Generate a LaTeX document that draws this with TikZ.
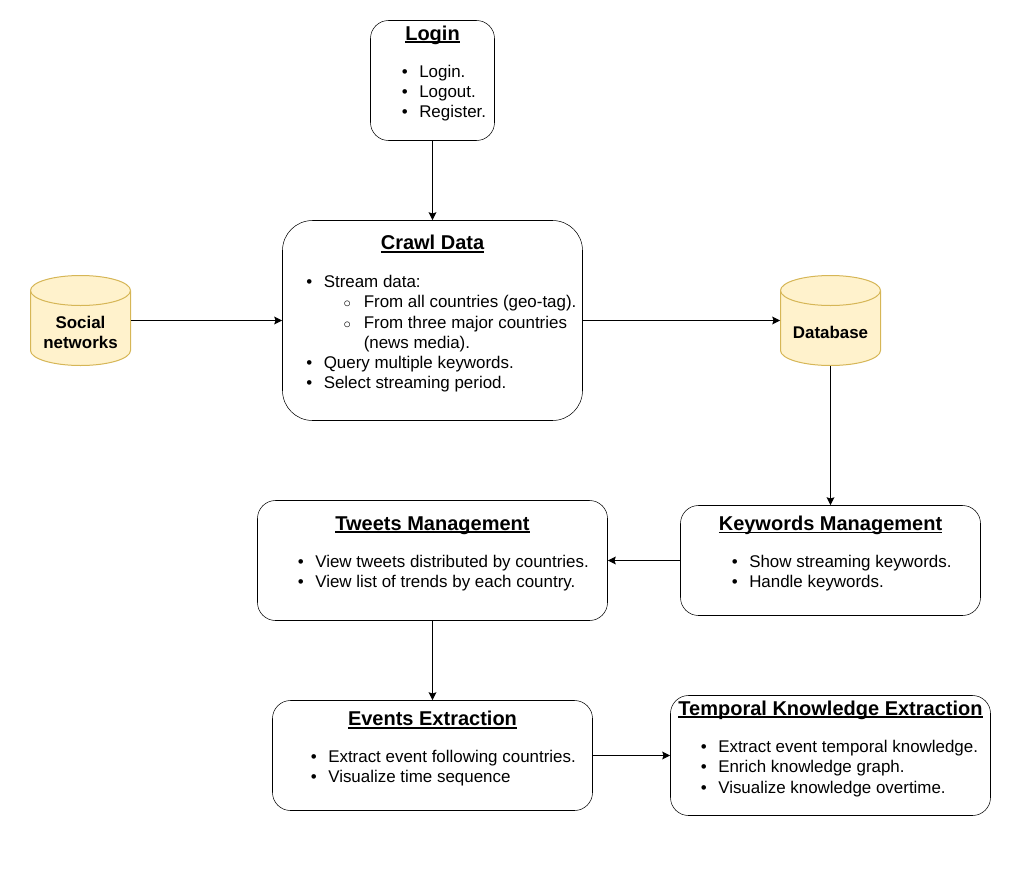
\documentclass[tikz,border=0pt]{standalone}
\usepackage{fontspec}
\setmainfont{Liberation Sans}
\usetikzlibrary{arrows.meta}
\definecolor{dbfill}{HTML}{FFF2CC}
\definecolor{dbline}{HTML}{D6B656}
\newsavebox{\ttlbox}
\newcommand{\ttl}[1]{\sbox{\ttlbox}{#1}\usebox{\ttlbox}\llap{\rule[-1.9pt]{\wd\ttlbox}{1.1pt}}}
\newcommand{\itm}{\makebox[13.5pt][l]{\hspace{0.5pt}\textbullet}}
\newcommand{\subitm}{\hspace{30pt}\makebox[13.5pt][l]{\hspace{-1.6pt}\fontsize{10.5}{10.5}\selectfont$\circ$}}
\tikzset{
  modulebox/.style={draw,rounded corners=#1,inner sep=0pt},
  dbframe/.style={minimum width=75pt,minimum height=67.5pt,inner sep=0pt},
  dbcyl/.style={draw=dbline,fill=dbfill,line width=0.75pt},
  titletext/.style={inner sep=0.75pt,font=\fontsize{15}{18}\selectfont\bfseries},
  bodytext/.style={anchor=north west,inner sep=0pt,align=left,font=\fontsize{12.7}{15.2}\selectfont},
  dbtext/.style={inner sep=0.75pt,align=center,font=\fontsize{12.7}{15.4}\selectfont\bfseries},
  arr/.style={-{Stealth[length=6pt,width=5.8pt,inset=1pt]},line width=0.75pt}
}
\begin{document}
\begin{tikzpicture}[x=0.75pt,y=0.75pt,yscale=-1,xscale=1]
        \useasboundingbox (0,0) rectangle (1031,871);
        %Shape: Rounded Rectangles
        \node [modulebox=13.5pt,minimum width=93pt,minimum height=90pt] (login) at (432.5,80.5) {};
        \node [modulebox=22.5pt,minimum width=225pt,minimum height=150pt] (crawl) at (432.5,320.5) {};
        \node [modulebox=13.5pt,minimum width=262.5pt,minimum height=90pt] (tweets) at (432.5,560.5) {};
        \node [modulebox=13.5pt,minimum width=225pt,minimum height=82.5pt] (keywords) at (830.5,560.5) {};
        \node [modulebox=13.5pt,minimum width=240pt,minimum height=82.5pt] (events) at (432.5,755.5) {};
        \node [modulebox=13.5pt,minimum width=240pt,minimum height=90pt] (temporal) at (830.5,755.5) {};
        %Shape: Cylinders
        \foreach \cx in {80.5,830.5}{
          \draw [dbcyl] (\cx-50,290.5) arc[start angle=180,end angle=360,x radius=37.5pt,y radius=11.25pt] -- (\cx+50,350.5) arc[start angle=0,end angle=180,x radius=37.5pt,y radius=11.25pt] -- cycle;
          \draw [dbcyl] (\cx-50,290.5) arc[start angle=180,end angle=0,x radius=37.5pt,y radius=11.25pt];
        }
        \node [dbframe] (social) at (80.5,320.5) {};
        \node [dbframe] (database) at (830.5,320.5) {};
        %Straight Lines
        \draw [arr] (login) -- (crawl);
        \draw [arr] (social) -- (crawl);
        \draw [arr] (crawl) -- (database);
        \draw [arr] (database) -- (keywords);
        \draw [arr] (keywords) -- (tweets);
        \draw [arr] (tweets) -- (events);
        \draw [arr] (events) -- (temporal);
        % Text Node
        \node [dbtext] (sociallabel) at (80.5,332.5) {Social\\networks};
        \node [dbtext] (databaselabel) at (830.5,332.5) {Database};
        % Text Node
        \node [titletext] (logintitle) at (432.5,35) {\ttl{Login}};
        \node [bodytext] (loginbody) at (401,64.5) {\itm Login.\\\itm Logout.\\\itm Register.};
        % Text Node
        \node [titletext] (crawltitle) at (432.5,244) {\ttl{Crawl Data}};
        \node [bodytext] (crawlbody) at (305.5,275) {\itm Stream data:\\\subitm From all countries (geo-tag).\\\subitm From three major countries\\\hspace{43.5pt}(news media).\\\itm Query multiple keywords.\\\itm Select streaming period.};
        % Text Node
        \node [titletext] (tweetstitle) at (432.5,525.5) {\ttl{Tweets Management}};
        \node [bodytext] (tweetsbody) at (297,555) {\itm View tweets distributed by countries.\\\itm View list of trends by each country.};
        % Text Node
        \node [titletext] (keywordstitle) at (830.5,525.5) {\ttl{Keywords Management}};
        \node [bodytext] (keywordsbody) at (731,555) {\itm Show streaming keywords.\\\itm Handle keywords.};
        % Text Node
        \node [titletext] (eventstitle) at (432.5,720) {\ttl{Events Extraction}};
        \node [bodytext] (eventsbody) at (310,750) {\itm Extract event following countries.\\\itm Visualize time sequence};
        % Text Node
        \node [titletext] (temporaltitle) at (830.5,710) {\ttl{Temporal Knowledge Extraction}};
        \node [bodytext] (temporalbody) at (700,740) {\itm Extract event temporal knowledge.\\\itm Enrich knowledge graph.\\\itm Visualize knowledge overtime.};
\end{tikzpicture}
\end{document}
